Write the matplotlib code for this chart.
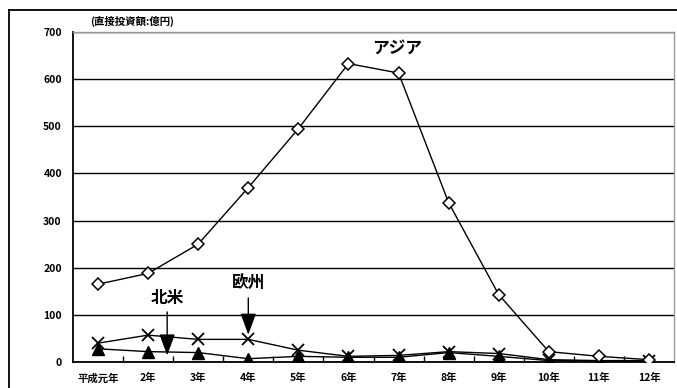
import matplotlib
matplotlib.use("Agg")
import matplotlib.pyplot as plt
from matplotlib.lines import Line2D

plt.rcParams['font.family'] = ['Noto Sans CJK JP', 'DejaVu Sans']

years = ["平成元年", "2年", "3年", "4年", "5年", "6年", "7年", "8年", "9年", "10年", "11年", "12年"]
asia = [165, 188, 250, 370, 495, 633, 613, 338, 143, 22, 12, 5]
europe = [40, 57, 48, 48, 25, 12, 14, 22, 18, 5, 3, 3]
north_america = [28, 22, 20, 7, 12, 10, 10, 20, 12, 3, 2, 2]
yticks = [0, 100, 200, 300, 400, 500, 600, 700]

fig = plt.figure(figsize=(6.77, 3.88), dpi=100)
ax = fig.add_axes([73 / 677, 1 - 362 / 388, 601 / 677, 330 / 388])

x = list(range(len(years)))
ax.plot(x, north_america, color="black", lw=1, marker="^", ms=8,
        markerfacecolor="black", zorder=3)
ax.plot(x, europe, color="black", lw=1, marker="x", ms=9, mew=1.3, zorder=3)
ax.plot(x, asia, color="black", lw=1, marker="D", ms=6.5,
        markerfacecolor="white", mew=1.1, zorder=4)

ax.set_xlim(-0.5, len(years) - 0.5)
ax.set_ylim(0, 700)
ax.set_yticks(yticks)
ax.set_yticklabels([str(v) for v in yticks], fontsize=7.5, fontweight="bold")
ax.set_xticks(x)
ax.set_xticklabels(years, fontsize=7.5, fontweight="bold")
ax.tick_params(axis="y", length=0, pad=8)
ax.tick_params(axis="x", which="major", length=0, pad=8)
ax.set_xticks([i + 0.5 for i in x[:-1]], minor=True)
ax.tick_params(axis="x", which="minor", direction="in", length=4, width=1)
ax.yaxis.grid(True, color="black", lw=1)
ax.set_axisbelow(True)

for side in ("left", "bottom"):
    ax.spines[side].set_linewidth(1.3)
for side in ("top", "right"):
    ax.spines[side].set_color("#999999")
    ax.spines[side].set_linewidth(1)

ax.text(0.028, 1.015, "(直接投資額:億円)", transform=ax.transAxes, fontsize=7.5,
        fontweight="bold", ha="left", va="bottom")

ax.text(5.97, 666, "アジア", fontsize=12, fontweight="bold", ha="center", va="center")
ax.text(1.38, 136, "北米", fontsize=12, fontweight="bold", ha="center", va="center")
ax.text(3.0, 165, "欧州", fontsize=12, fontweight="bold", ha="center", va="center")

arrow_style = dict(arrowstyle="-|>,head_length=0.6,head_width=0.22",
                   color="black", lw=1, mutation_scale=22)
ax.annotate("", xy=(1.38, 8), xytext=(1.38, 112), arrowprops=arrow_style)
ax.annotate("", xy=(3.0, 52), xytext=(3.0, 142), arrowprops=arrow_style)

# outer frame lines
fig.add_artist(Line2D([9 / 677, 1], [1 - 10 / 388, 1 - 10 / 388], color="black", lw=1.3))
fig.add_artist(Line2D([9 / 677, 9 / 677], [0, 1 - 10 / 388], color="black", lw=1.3))

fig.savefig("out.png", dpi=100)
